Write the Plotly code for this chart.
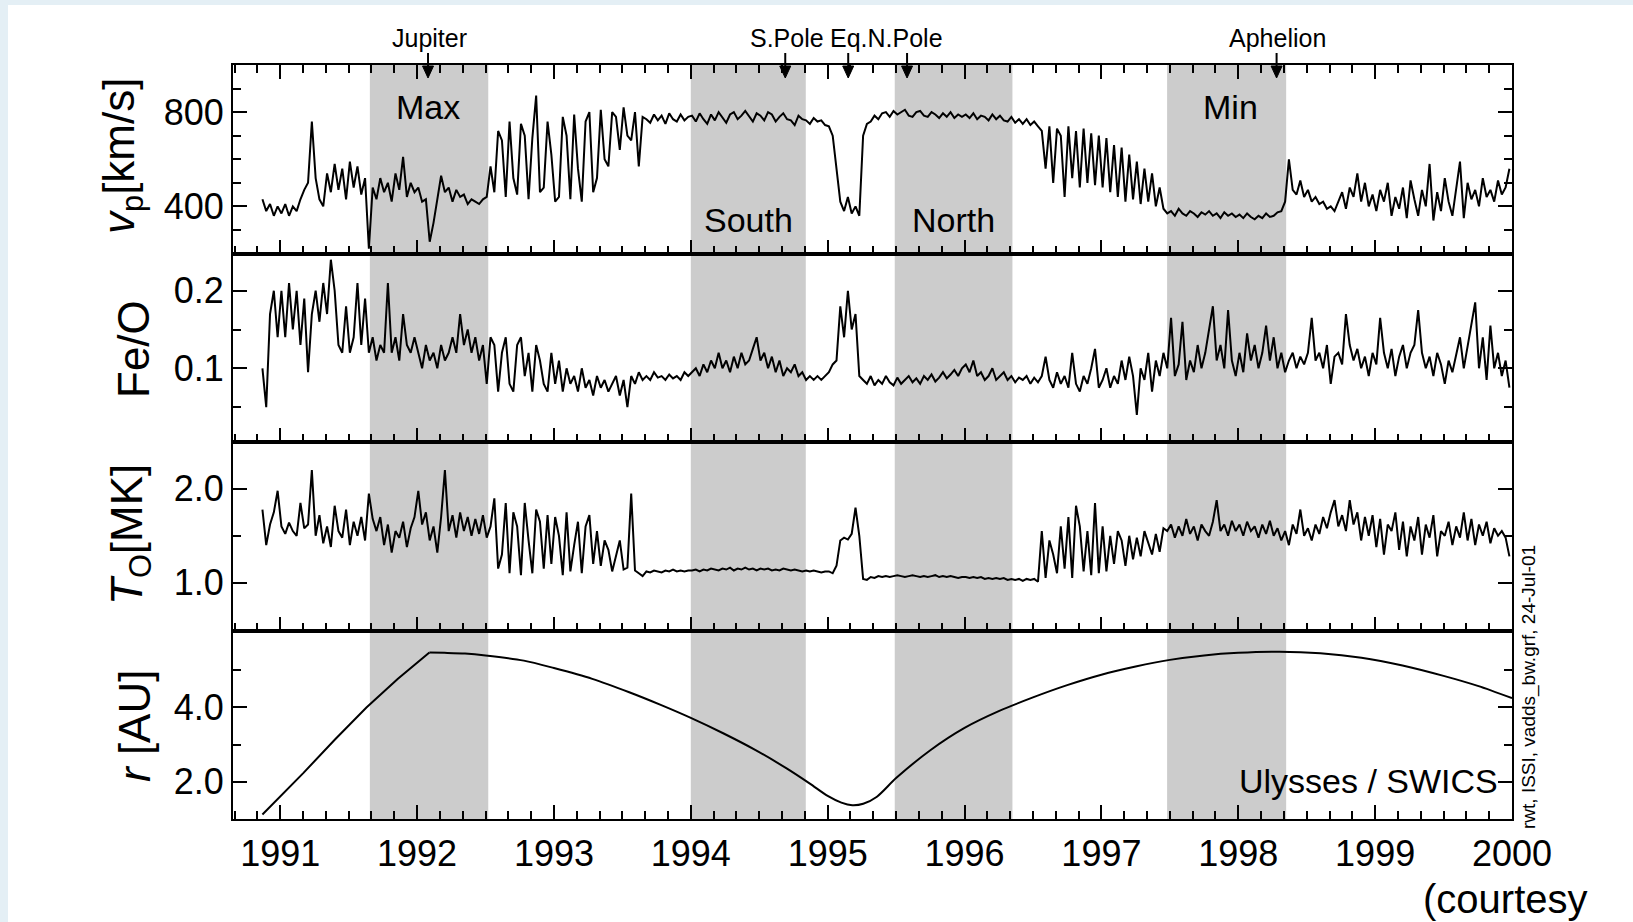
import numpy as np
import plotly.graph_objects as go
from plotly.subplots import make_subplots

# ---------------------------------------------------------------------------
# Ulysses / SWICS solar-wind record, ~10-day averages (36 samples per year)
# ---------------------------------------------------------------------------
T_START = 1990.87
STEP = 1.0 / 36.0

# proton speed v_p [km/s]
vp_1990 = [430, 380, 410, 360, 400]
vp_1991 = [370, 410, 360, 400, 380, 430, 470, 500, 760, 520, 430, 400,
           540, 460, 580, 470, 560, 430, 590, 480, 570, 450, 520, 220,
           480, 430, 520, 460, 500, 420, 540, 470, 610, 440, 500, 460]
vp_1992 = [480, 420, 430, 250, 330, 430, 530, 460, 480, 420, 470, 440,
           450, 410, 430, 420, 410, 430, 440, 570, 460, 720, 680, 440,
           760, 520, 450, 750, 700, 430, 690, 870, 460, 480, 760, 620]
vp_1993 = [420, 440, 780, 700, 430, 790, 560, 420, 760, 800, 460, 520,
           810, 600, 570, 800, 780, 640, 820, 700, 680, 800, 570, 780,
           770, 755, 790, 765, 785, 750, 795, 770, 760, 790, 765, 780]
vp_1994 = [785, 760, 795, 770, 750, 790, 765, 800, 780, 755, 790, 800,
           770, 785, 805, 780, 760, 795, 785, 765, 800, 790, 760, 780,
           795, 770, 765, 745, 785, 770, 765, 750, 775, 760, 765, 745]
vp_1995 = [740, 700, 560, 420, 380, 440, 370, 400, 360, 700, 750, 760,
           785, 770, 795, 800, 780, 805, 790, 800, 810, 785, 780, 800,
           805, 785, 780, 800, 790, 775, 795, 780, 800, 775, 790, 780]
vp_1996 = [790, 775, 795, 770, 785, 780, 765, 790, 770, 785, 765, 760,
           780, 755, 770, 750, 770, 745, 760, 740, 720, 560, 740, 500,
           730, 700, 440, 740, 520, 720, 480, 730, 500, 710, 490, 700]
vp_1997 = [480, 690, 460, 660, 440, 650, 420, 620, 430, 590, 410, 560,
           420, 540, 400, 480, 390, 370, 380, 360, 390, 370, 360, 380,
           370, 355, 375, 365, 380, 360, 370, 350, 375, 360, 370, 355]
vp_1998 = [365, 350, 370, 355, 345, 360, 350, 370, 355, 360, 375, 380,
           420, 600, 470, 450, 510, 440, 470, 420, 440, 410, 420, 390,
           400, 380, 420, 460, 390, 480, 440, 540, 420, 500, 400, 450]
vp_1999 = [380, 470, 420, 500, 360, 440, 390, 480, 350, 510, 430, 360,
           470, 400, 580, 340, 460, 380, 520, 420, 360, 470, 590, 350,
           500, 430, 470, 400, 520, 440, 470, 420, 510, 450, 480, 560]

# Fe/O abundance ratio
feo_1990 = [0.10, 0.05, 0.17, 0.20, 0.14]
feo_1991 = [0.20, 0.14, 0.21, 0.15, 0.20, 0.13, 0.19, 0.095, 0.17, 0.20, 0.16, 0.21,
            0.17, 0.24, 0.20, 0.13, 0.12, 0.18, 0.12, 0.14, 0.21, 0.13, 0.19, 0.12,
            0.14, 0.11, 0.13, 0.12, 0.21, 0.12, 0.14, 0.11, 0.17, 0.13, 0.12, 0.14]
feo_1992 = [0.12, 0.10, 0.13, 0.11, 0.12, 0.10, 0.13, 0.11, 0.12, 0.14, 0.12, 0.17,
            0.13, 0.15, 0.12, 0.14, 0.11, 0.13, 0.08, 0.14, 0.13, 0.07, 0.12, 0.14,
            0.08, 0.07, 0.13, 0.14, 0.09, 0.12, 0.07, 0.13, 0.11, 0.08, 0.07, 0.12]
feo_1993 = [0.08, 0.11, 0.07, 0.10, 0.08, 0.09, 0.07, 0.10, 0.075, 0.085, 0.065, 0.09,
            0.075, 0.085, 0.07, 0.08, 0.09, 0.065, 0.085, 0.05, 0.09, 0.08, 0.095, 0.085,
            0.09, 0.085, 0.095, 0.088, 0.09, 0.085, 0.092, 0.087, 0.09, 0.085, 0.095, 0.09]
feo_1994 = [0.095, 0.10, 0.09, 0.105, 0.095, 0.11, 0.10, 0.12, 0.10, 0.11, 0.095, 0.115,
            0.10, 0.12, 0.105, 0.11, 0.125, 0.14, 0.11, 0.12, 0.10, 0.115, 0.095, 0.11,
            0.09, 0.10, 0.095, 0.105, 0.09, 0.095, 0.085, 0.09, 0.085, 0.09, 0.085, 0.09]
feo_1995 = [0.095, 0.105, 0.11, 0.18, 0.14, 0.20, 0.15, 0.17, 0.09, 0.085, 0.08, 0.09,
            0.078, 0.085, 0.08, 0.09, 0.082, 0.078, 0.088, 0.08, 0.085, 0.09, 0.082, 0.087,
            0.08, 0.09, 0.085, 0.092, 0.083, 0.088, 0.095, 0.087, 0.092, 0.098, 0.09, 0.10]
feo_1996 = [0.105, 0.095, 0.11, 0.09, 0.095, 0.085, 0.09, 0.10, 0.085, 0.09, 0.095, 0.085,
            0.09, 0.082, 0.088, 0.085, 0.09, 0.08, 0.088, 0.082, 0.09, 0.115, 0.085, 0.075,
            0.095, 0.08, 0.09, 0.075, 0.12, 0.08, 0.07, 0.09, 0.08, 0.10, 0.125, 0.075]
feo_1997 = [0.085, 0.10, 0.075, 0.09, 0.08, 0.11, 0.085, 0.115, 0.09, 0.04, 0.10, 0.085,
            0.12, 0.07, 0.11, 0.09, 0.12, 0.10, 0.165, 0.09, 0.105, 0.16, 0.085, 0.11,
            0.095, 0.13, 0.10, 0.12, 0.15, 0.18, 0.11, 0.13, 0.10, 0.175, 0.11, 0.09]
feo_1998 = [0.12, 0.095, 0.145, 0.11, 0.13, 0.10, 0.12, 0.155, 0.11, 0.14, 0.10, 0.12,
            0.095, 0.11, 0.12, 0.10, 0.115, 0.105, 0.12, 0.165, 0.11, 0.12, 0.10, 0.13,
            0.08, 0.115, 0.12, 0.105, 0.17, 0.13, 0.11, 0.125, 0.10, 0.115, 0.09, 0.12]
feo_1999 = [0.105, 0.165, 0.12, 0.10, 0.125, 0.09, 0.115, 0.13, 0.10, 0.12, 0.13, 0.175,
            0.12, 0.10, 0.115, 0.09, 0.12, 0.105, 0.08, 0.11, 0.095, 0.12, 0.14, 0.10,
            0.13, 0.16, 0.185, 0.10, 0.14, 0.085, 0.155, 0.10, 0.12, 0.09, 0.11, 0.075]

# oxygen freeze-in temperature T_O [MK]
to_1990 = [1.78, 1.40, 1.62, 1.75, 1.98]
to_1991 = [1.60, 1.52, 1.64, 1.55, 1.50, 1.85, 1.58, 1.62, 2.20, 1.50, 1.72, 1.42,
           1.60, 1.38, 1.82, 1.55, 1.48, 1.78, 1.40, 1.65, 1.50, 1.70, 1.45, 1.95,
           1.68, 1.55, 1.70, 1.40, 1.62, 1.32, 1.55, 1.48, 1.65, 1.38, 1.58, 1.70]
to_1992 = [1.98, 1.62, 1.75, 1.45, 1.60, 1.32, 1.70, 2.20, 1.55, 1.72, 1.48, 1.75,
           1.55, 1.70, 1.50, 1.68, 1.52, 1.72, 1.48, 1.60, 1.90, 1.15, 1.30, 1.85,
           1.10, 1.75, 1.60, 1.08, 1.85, 1.45, 1.10, 1.78, 1.65, 1.15, 1.72, 1.20]
to_1993 = [1.70, 1.50, 1.08, 1.75, 1.12, 1.40, 1.65, 1.10, 1.60, 1.72, 1.20, 1.55,
           1.18, 1.45, 1.35, 1.12, 1.30, 1.45, 1.14, 1.16, 1.95, 1.13, 1.10, 1.07,
           1.12, 1.11, 1.13, 1.12, 1.11, 1.13, 1.12, 1.14, 1.12, 1.13, 1.12, 1.13]
to_1994 = [1.13, 1.14, 1.12, 1.14, 1.13, 1.15, 1.14, 1.13, 1.15, 1.14, 1.16, 1.13,
           1.15, 1.14, 1.16, 1.14, 1.15, 1.13, 1.15, 1.14, 1.15, 1.13, 1.14, 1.13,
           1.15, 1.14, 1.13, 1.14, 1.13, 1.12, 1.13, 1.12, 1.13, 1.12, 1.11, 1.12]
to_1995 = [1.12, 1.10, 1.18, 1.45, 1.48, 1.46, 1.52, 1.80, 1.50, 1.04, 1.03, 1.06,
           1.05, 1.07, 1.06, 1.07, 1.06, 1.07, 1.08, 1.07, 1.06, 1.07, 1.08, 1.07,
           1.06, 1.07, 1.06, 1.07, 1.08, 1.06, 1.07, 1.06, 1.07, 1.06, 1.05, 1.06]
to_1996 = [1.06, 1.05, 1.06, 1.05, 1.06, 1.04, 1.05, 1.04, 1.05, 1.04, 1.05, 1.03,
           1.04, 1.03, 1.04, 1.02, 1.04, 1.03, 1.04, 1.01, 1.55, 1.05, 1.45, 1.30,
           1.10, 1.60, 1.15, 1.70, 1.05, 1.82, 1.60, 1.12, 1.55, 1.08, 1.85, 1.10]
to_1997 = [1.60, 1.12, 1.50, 1.20, 1.55, 1.45, 1.18, 1.50, 1.25, 1.48, 1.28, 1.55,
           1.42, 1.30, 1.52, 1.33, 1.58, 1.55, 1.62, 1.48, 1.60, 1.50, 1.68, 1.52,
           1.60, 1.45, 1.62, 1.55, 1.50, 1.65, 1.88, 1.55, 1.62, 1.50, 1.66, 1.55]
to_1998 = [1.62, 1.50, 1.65, 1.55, 1.60, 1.48, 1.62, 1.52, 1.66, 1.50, 1.58, 1.45,
           1.55, 1.40, 1.62, 1.52, 1.78, 1.50, 1.58, 1.45, 1.62, 1.52, 1.70, 1.58,
           1.75, 1.88, 1.60, 1.72, 1.55, 1.88, 1.62, 1.75, 1.45, 1.70, 1.50, 1.72]
to_1999 = [1.38, 1.68, 1.30, 1.62, 1.55, 1.75, 1.35, 1.65, 1.28, 1.60, 1.45, 1.70,
           1.30, 1.62, 1.48, 1.72, 1.28, 1.55, 1.50, 1.65, 1.40, 1.60, 1.48, 1.75,
           1.45, 1.68, 1.40, 1.62, 1.50, 1.65, 1.42, 1.58, 1.50, 1.55, 1.48, 1.28]

# heliocentric distance of the spacecraft
r_year = [1990.87, 1991.0, 1991.17, 1991.4, 1991.63, 1991.86, 1992.05, 1992.09,
          1992.2, 1992.35, 1992.5, 1992.78, 1993.0, 1993.28, 1993.55, 1993.78,
          1994.0, 1994.24, 1994.47, 1994.7, 1994.87, 1995.0, 1995.1, 1995.18,
          1995.26, 1995.36, 1995.5, 1995.75, 1996.0, 1996.25, 1996.5, 1996.75,
          1997.0, 1997.25, 1997.5, 1997.75, 1998.0, 1998.3, 1998.6, 1998.9,
          1999.2, 1999.5, 1999.75, 2000.0]
r_au = [1.12, 1.61, 2.24, 3.14, 4.00, 4.77, 5.35, 5.48,
        5.47, 5.45, 5.40, 5.26, 5.06, 4.77, 4.41, 4.07,
        3.72, 3.30, 2.86, 2.36, 1.95, 1.62, 1.44, 1.37,
        1.41, 1.60, 2.10, 2.85, 3.45, 3.90, 4.27, 4.60,
        4.88, 5.10, 5.28, 5.40, 5.47, 5.50, 5.46, 5.34,
        5.13, 4.85, 4.58, 4.25]

# shaded intervals: solar max, south polar pass, north polar pass, solar min
band_start = [1991.655, 1994.0, 1995.49, 1997.48]
band_end = [1992.52, 1994.84, 1996.35, 1998.35]
band_label = ["Max", "South", "North", "Min"]

# orbit events marked along the top axis
event_year = [1992.08, 1994.69, 1995.15, 1995.58, 1998.28]

vp = sum([vp_1990, vp_1991, vp_1992, vp_1993, vp_1994, vp_1995, vp_1996,
          vp_1997, vp_1998, vp_1999], [])
feo = sum([feo_1990, feo_1991, feo_1992, feo_1993, feo_1994, feo_1995, feo_1996,
           feo_1997, feo_1998, feo_1999], [])
t_o = sum([to_1990, to_1991, to_1992, to_1993, to_1994, to_1995, to_1996,
           to_1997, to_1998, to_1999], [])
t = T_START + np.arange(len(vp)) * STEP

# ---------------------------------------------------------------------------
# page geometry
# ---------------------------------------------------------------------------
W, H = 1633, 922
ML, MR, MT, MB = 233, 121, 65, 103
PW, PH = W - ML - MR, H - MT - MB
X_RANGE = [1990.655, 2000.0]
PX_PER_YEAR = PW / (X_RANGE[1] - X_RANGE[0])


def px_x(p):
    return (p - ML) / PW


def px_y(p):
    return (H - MB - p) / PH


SANS = "Liberation Sans, Arial, Helvetica, sans-serif"

fig = make_subplots(rows=4, cols=1, shared_xaxes=True, vertical_spacing=0)

line = dict(color="black", width=2)
fig.add_trace(go.Scatter(x=t, y=vp, mode="lines", line=line), row=1, col=1)
fig.add_trace(go.Scatter(x=t, y=feo, mode="lines", line=line), row=2, col=1)
fig.add_trace(go.Scatter(x=t, y=t_o, mode="lines", line=line), row=3, col=1)
# the trajectory kinks at the Jupiter fly-by; smooth only the free orbit after it
k = r_year.index(1992.09)
fig.add_trace(go.Scatter(x=r_year[:k + 1], y=r_au[:k + 1], mode="lines",
                         line=dict(color="black", width=2)), row=4, col=1)
fig.add_trace(go.Scatter(x=r_year[k:], y=r_au[k:], mode="lines",
                         line=dict(color="black", width=2, shape="spline",
                                   smoothing=0.8)), row=4, col=1)

axis_style = dict(showline=True, linecolor="black", linewidth=2, ticks="inside",
                  tickcolor="black", tickwidth=1.8, ticklen=14, showgrid=False,
                  zeroline=False, automargin=False)

for i in range(1, 5):
    fig.update_xaxes(range=X_RANGE, tick0=1991, dtick=1,
                     minor=dict(tick0=1991, dtick=1 / 6, ticks="inside", ticklen=8,
                                tickcolor="black", tickwidth=1.5, showgrid=False),
                     mirror=("ticks" if i == 1 else True),
                     showticklabels=(i == 4),
                     tickfont=dict(family=SANS, size=36, color="black"),
                     ticklabelstandoff=2,
                     row=i, col=1, **axis_style)

y_specs = [
    dict(range=[200, 1000], ticks=[400, 800], minor=[300, 500, 600, 700, 900], fmt=""),
    dict(range=[0.005, 0.248], ticks=[0.1, 0.2], minor=[0.05, 0.15], fmt=".1f"),
    dict(range=[0.49, 2.5], ticks=[1.0, 2.0], minor=[1.5], fmt=".1f"),
    dict(range=[1.0, 6.07], ticks=[2.0, 4.0], minor=[3.0, 5.0], fmt=".1f"),
]
for i, s in enumerate(y_specs, start=1):
    fig.update_yaxes(range=s["range"], tickmode="array", tickvals=s["ticks"],
                     tickformat=s["fmt"], mirror="ticks",
                     minor=dict(tickmode="array", tickvals=s["minor"], ticks="inside",
                                ticklen=8, tickcolor="black", tickwidth=1.5,
                                showgrid=False),
                     tickfont=dict(family=SANS, size=36, color="black"),
                     ticklabelstandoff=0,
                     row=i, col=1, **axis_style)

shapes = [dict(type="rect", xref="paper", yref="paper", layer="below",
               x0=px_x(8), x1=px_x(W + 20), y0=px_y(H + 20), y1=px_y(5),
               fillcolor="white", line=dict(width=0))]
for a, b in zip(band_start, band_end):
    shapes.append(dict(type="rect", xref="x", yref="paper", layer="below",
                       x0=a, x1=b, y0=0, y1=1, fillcolor="#cccccc",
                       line=dict(width=0)))

# downward arrows pointing at the event dates on the top axis
head_half = 5.5 / PX_PER_YEAR
for ev in event_year:
    shapes.append(dict(type="line", xref="x", yref="paper", x0=ev, x1=ev,
                       y0=px_y(53), y1=px_y(70), line=dict(color="black", width=2)))
    shapes.append(dict(type="path", xref="x", yref="paper",
                       path=(f"M {ev - head_half},{px_y(66)} L {ev + head_half},{px_y(66)} "
                             f"L {ev},{px_y(78)} Z"),
                       fillcolor="black", line=dict(color="black", width=1)))

ann = []
# event labels above the top axis
top_text = [("Jupiter", 1992.09, "center"), ("S.Pole", 1994.70, "center"),
            ("Eq.N.Pole", 1995.0, "left"), ("Aphelion", 1998.29, "center")]
for txt, xv, anc in top_text:
    ann.append(dict(text=txt, x=xv, y=px_y(38), xref="x", yref="paper",
                    xanchor=anc, yanchor="middle", showarrow=False,
                    font=dict(family=SANS, size=25, color="black")))

# labels inside the shaded bands
band_text_pos = [(1992.08, 822), (1994.42, 344), (1995.92, 344), (1997.94, 822)]
for txt, (xv, yv) in zip(band_label, band_text_pos):
    ann.append(dict(text=txt, x=xv, y=yv, xref="x", yref="y", showarrow=False,
                    xanchor="center", yanchor="middle",
                    font=dict(family=SANS, size=34, color="black")))

ann.append(dict(text="Ulysses / SWICS", x=1999.91, y=2.02, xref="x", yref="y4",
                xanchor="right", yanchor="middle", showarrow=False,
                font=dict(family=SANS, size=34, color="black")))

# rotated axis titles
titles = [("<i>v</i><sub>p</sub>[km/s]", 122, 156),
          ("Fe/O", 133, 349),
          ("<i>T</i><sub>O</sub>[MK]", 130, 535),
          ("<i>r</i> [AU]", 134, 726)]
for txt, xp, yp in titles:
    ann.append(dict(text=txt, x=px_x(xp), y=px_y(yp), xref="paper", yref="paper",
                    xanchor="center", yanchor="middle", textangle=-90,
                    showarrow=False,
                    font=dict(family=SANS, size=44, color="black")))

ann.append(dict(text="rwt, ISSI, vadds_bw.grf, 24-Jul-01", x=px_x(1529),
                y=px_y(687), xref="paper", yref="paper", textangle=-90,
                xanchor="center", yanchor="middle", showarrow=False,
                font=dict(family=SANS, size=19, color="black")))

ann.append(dict(text="(courtesy", x=px_x(1422), y=px_y(922), xref="paper",
                yref="paper", xanchor="left", yanchor="bottom", showarrow=False,
                borderpad=0, font=dict(family=SANS, size=40, color="black")))

fig.update_layout(width=W, height=H, margin=dict(l=ML, r=MR, t=MT, b=MB),
                  paper_bgcolor="#e4eff5", plot_bgcolor="white",
                  showlegend=False, shapes=shapes, annotations=ann)

fig.write_html("out.html")
